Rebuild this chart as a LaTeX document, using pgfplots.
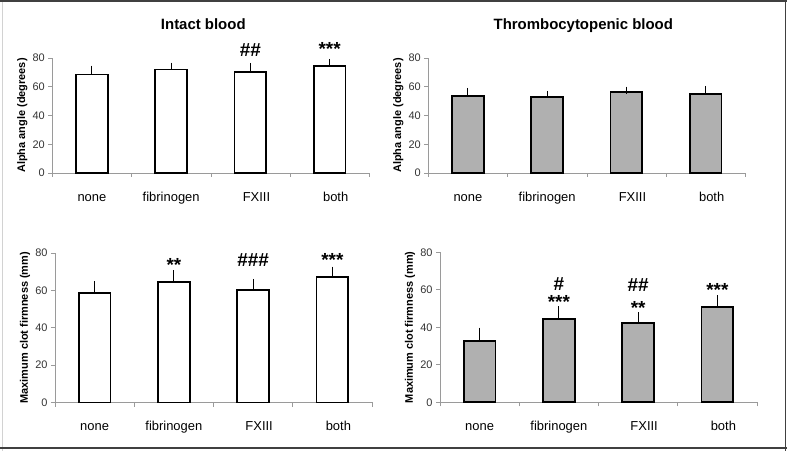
\documentclass[border=0pt]{standalone}
\usepackage{pgfplots}
\usepackage{pgfplotstable}
\pgfplotsset{compat=1.18}
\usepackage{fontspec}
\setmainfont{Liberation Sans}
\definecolor{axgray}{HTML}{9A9A9A}
\definecolor{bargray}{HTML}{B0B0B0}
\definecolor{txt}{HTML}{333333}

\pgfplotstableread{
x y e
0 68.5 3.8
1 72.0 2.3
2 70.3 3.8
3 74.2 2.8
}\tlA
\pgfplotstableread{
x y e
0 53.8 3.0
1 53.1 1.6
2 56.1 1.6
3 55.0 3.2
}\trA
\pgfplotstableread{
x y e
0 58.6 4.3
1 64.3 4.5
2 60.3 4.0
3 67.3 3.6
}\blM
\pgfplotstableread{
x y e
0 32.9 5.1
1 44.6 4.8
2 42.5 3.7
3 51.0 4.3
}\brM

\tikzset{ann/.style={font=\bfseries\fontsize{19}{20}\selectfont, inner sep=0pt}}
\pgfplotsset{
  panel/.style={
    scale only axis, width=317bp,
    xmin=-0.5, xmax=3.5, ymin=0, ymax=80,
    axis x line*=bottom, axis y line*=left,
    axis line style={axgray, line width=0.6bp},
    tick align=outside,
    ytick={0,20,40,60,80},
    major tick length=4bp,
    minor tick length=4bp,
    ytick style={axgray, line width=0.6bp},
    xtick={0,1,2,3},
    xticklabels={none,fibrinogen,\hspace{12bp}FXIII,\hspace{12bp}both},
    major x tick style={draw=none},
    minor xtick={-0.5,0.5,1.5,2.5,3.5},
    minor x tick style={axgray, line width=0.6bp},
    xticklabel style={font=\fontsize{13}{15}\selectfont, anchor=base, yshift=-24.5bp, text=black},
    yticklabel style={font=\fontsize{11}{13}\selectfont, text=txt},
    /pgf/number format/assume math mode=true,
    every axis y label/.style={at={(axis description cs:0,0.5)}, xshift=-30bp, rotate=90, anchor=center, font=\bfseries\fontsize{11}{13}\selectfont},
    clip=false,
    bar width=0.4,
  },
  bars/.style={ybar, draw=black, line width=1.8bp,
    error bars/y dir=plus, error bars/y explicit,
    error bars/error bar style={black, line width=0.9bp},
    error bars/error mark options={black, line width=0.9bp, mark size=3.5bp}},
}

\begin{document}
\begin{tikzpicture}
\path[use as bounding box] (0,0) rectangle (787bp,451bp);

% top left
\begin{axis}[panel, height=115bp, at={(52.3bp,278bp)}, anchor=south west,
  ylabel={Alpha angle (degrees)}]
\addplot[bars, fill=white] table[x=x, y=y, y error=e] {\tlA};
\node[ann] at (axis cs:2,85.6) {\#\#};
\node[ann, yshift=-3bp] at (axis cs:3,88.6) {***};
\end{axis}

% top right
\begin{axis}[panel, height=115bp, at={(428.3bp,278bp)}, anchor=south west,
  ylabel={Alpha angle (degrees)}]
\addplot[bars, fill=bargray] table[x=x, y=y, y error=e] {\trA};
\end{axis}

% bottom left
\begin{axis}[panel, height=149.5bp, at={(55bp,48.5bp)}, anchor=south west,
  ylabel={Maximum clot firmness (mm)}]
\addplot[bars, fill=white] table[x=x, y=y, y error=e] {\blM};
\node[ann, yshift=-3bp] at (axis cs:1,75.3) {**};
\node[ann] at (axis cs:2,76.2) {\#\#\#};
\node[ann, yshift=-3bp] at (axis cs:3,78) {***};
\end{axis}

% bottom right
\begin{axis}[panel, height=150bp, at={(440bp,48.7bp)}, anchor=south west,
  ylabel={Maximum clot firmness (mm)}]
\addplot[bars, fill=bargray] table[x=x, y=y, y error=e] {\brM};
\node[ann] at (axis cs:1,62.9) {\#};
\node[ann, yshift=-3bp] at (axis cs:1,55.1) {***};
\node[ann] at (axis cs:2,62.6) {\#\#};
\node[ann, yshift=-3bp] at (axis cs:2,51.9) {**};
\node[ann, yshift=-3bp] at (axis cs:3,61.3) {***};
\end{axis}

% titles
\node[font=\bfseries\fontsize{15}{18}\selectfont, anchor=base] at (203.3bp,421.7bp) {Intact blood};
\node[font=\bfseries\fontsize{15}{18}\selectfont, anchor=base] at (583.3bp,421.5bp) {Thrombocytopenic blood};

% frame
\draw[gray!35, line width=1bp] (2bp,0) -- (2bp,451bp);
\draw[black!75, line width=1.5bp] (0,450.2bp) -- (787bp,450.2bp);
\draw[black!75, line width=1.5bp] (785.5bp,0) -- (785.5bp,451bp);
\draw[black!75, line width=1.5bp] (0,3bp) -- (787bp,3bp);
\end{tikzpicture}
\end{document}
